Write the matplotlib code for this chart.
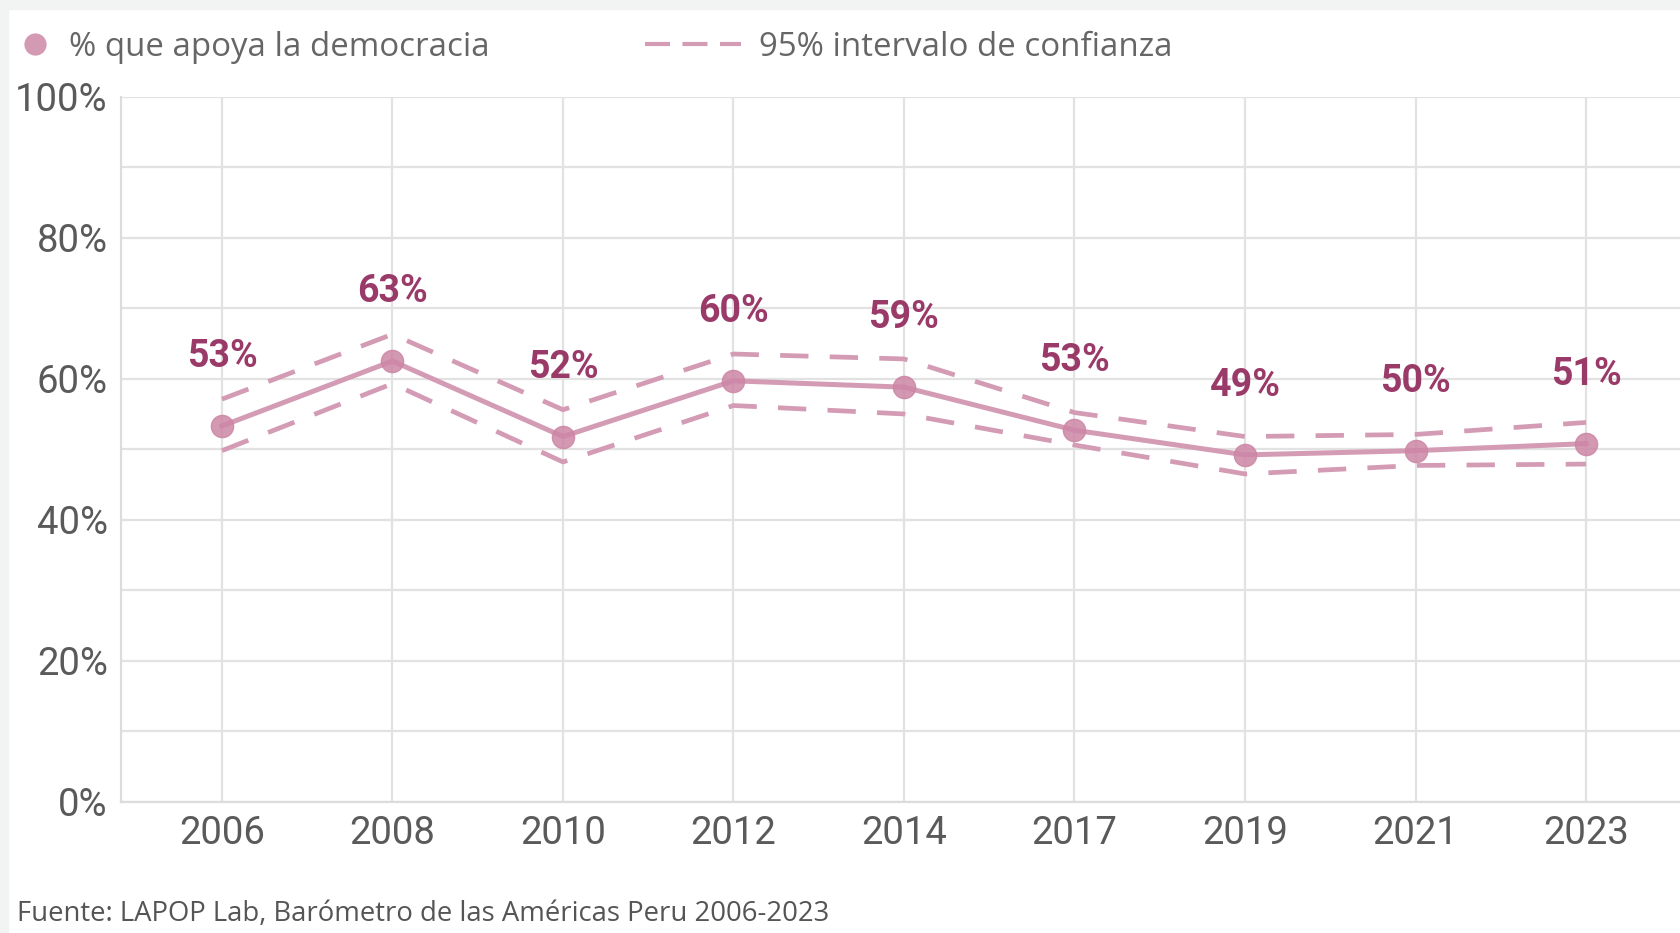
import numpy as np
import matplotlib
matplotlib.use('Agg')
import matplotlib.pyplot as plt
from matplotlib.lines import Line2D
from matplotlib.patches import Rectangle

# data
years = ['2006', '2008', '2010', '2012', '2014', '2017', '2019', '2021', '2023']
apoyo = [53.3, 62.5, 51.8, 59.7, 58.8, 52.7, 49.2, 49.8, 50.8]
ic_sup = [57.1, 66.3, 55.6, 63.5, 62.8, 55.2, 51.8, 52.1, 53.8]
ic_inf = [49.8, 59.3, 48.2, 56.2, 55.0, 50.6, 46.5, 47.7, 47.9]
etiquetas = ['53%', '63%', '52%', '60%', '59%', '53%', '49%', '50%', '51%']
y_ticks = [0, 20, 40, 60, 80, 100]
y_labels = ['0%', '20%', '40%', '60%', '80%', '100%']

line_col = '#d49bb4'
mark_col = '#cc86a5'
lab_col = '#9a3a68'
tick_col = '#5a5a5a'

fig = plt.figure(figsize=(16.81, 9.33), dpi=100)
fig.patch.set_facecolor('white')
# light gray frame strips of the screenshot
fig.patches.append(Rectangle((0, 924/933), 1, 9/933, transform=fig.transFigure,
                             color='#f2f4f3', zorder=0))
fig.patches.append(Rectangle((0, 0), 8/1681, 1, transform=fig.transFigure,
                             color='#f2f4f3', zorder=0))

ax = fig.add_axes([121/1681, 131/933, 1 - 121/1681, (802 - 96.5)/933])
x = np.arange(len(years))

ax.plot(x, ic_sup, color=line_col, lw=3.4, dashes=(6, 4.5), zorder=3)
ax.plot(x, ic_inf, color=line_col, lw=3.4, dashes=(6, 4.5), zorder=3)
ax.plot(x, apoyo, color=line_col, lw=3.6, zorder=4)
ax.plot(x, apoyo, 'o', color=mark_col, ms=16, alpha=0.85, mec=mark_col, zorder=5)

for xi, v, t in zip(x, apoyo, etiquetas):
    ax.annotate(t, (xi, v), xytext=(0, 50), textcoords='offset points',
                ha='center', va='center', fontsize=27, fontweight='bold',
                color=lab_col, family='Roboto')

ax.set_xlim(-0.592, 8.557)
ax.set_ylim(0, 100)
ax.set_yticks(y_ticks)
ax.set_yticklabels(y_labels)
ax.set_yticks(np.arange(0, 101, 10), minor=True)
ax.set_xticks(x)
ax.set_xticklabels(years)
ax.tick_params(axis='both', which='both', length=0, labelsize=27.5, labelcolor=tick_col)
ax.tick_params(axis='y', pad=9.5)
ax.tick_params(axis='x', pad=9)
for lab in ax.get_xticklabels() + ax.get_yticklabels():
    lab.set_family('Roboto')
ax.grid(True, which='both', color='#e2e2e2', lw=1.6)
ax.set_axisbelow(True)
for s in ['top', 'right']:
    ax.spines[s].set_visible(False)
for s in ['left', 'bottom']:
    ax.spines[s].set_color('#dcdcdc')
    ax.spines[s].set_linewidth(1.6)

# legend, two separate entries
h1 = Line2D([], [], marker='o', ls='none', color='#d49ab3', ms=15)
h2 = Line2D([], [], color=line_col, lw=3, dashes=(6, 3))
fig.legend(handles=[h1], labels=['% que apoya la democracia'], loc='center left',
           bbox_to_anchor=(18/1681, 1 - 47/933), frameon=False, handlelength=1.0,
           handletextpad=0.55, borderaxespad=0, borderpad=0,
           prop={'family': 'Open Sans', 'size': 23.8}, labelcolor='#666666')
fig.legend(handles=[h2], labels=['95% intervalo de confianza'], loc='center left',
           bbox_to_anchor=(645/1681, 1 - 47/933), frameon=False, handlelength=2.9,
           handletextpad=0.55, borderaxespad=0, borderpad=0,
           prop={'family': 'Open Sans', 'size': 23.8}, labelcolor='#666666')

fig.text(17/1681, 1 - 914/933, 'Fuente: LAPOP Lab, Barómetro de las Américas Peru 2006-2023',
         ha='left', va='center', fontsize=19.8, color='#555555', family='Open Sans')

fig.savefig('out.png', dpi=100, facecolor=fig.get_facecolor())
